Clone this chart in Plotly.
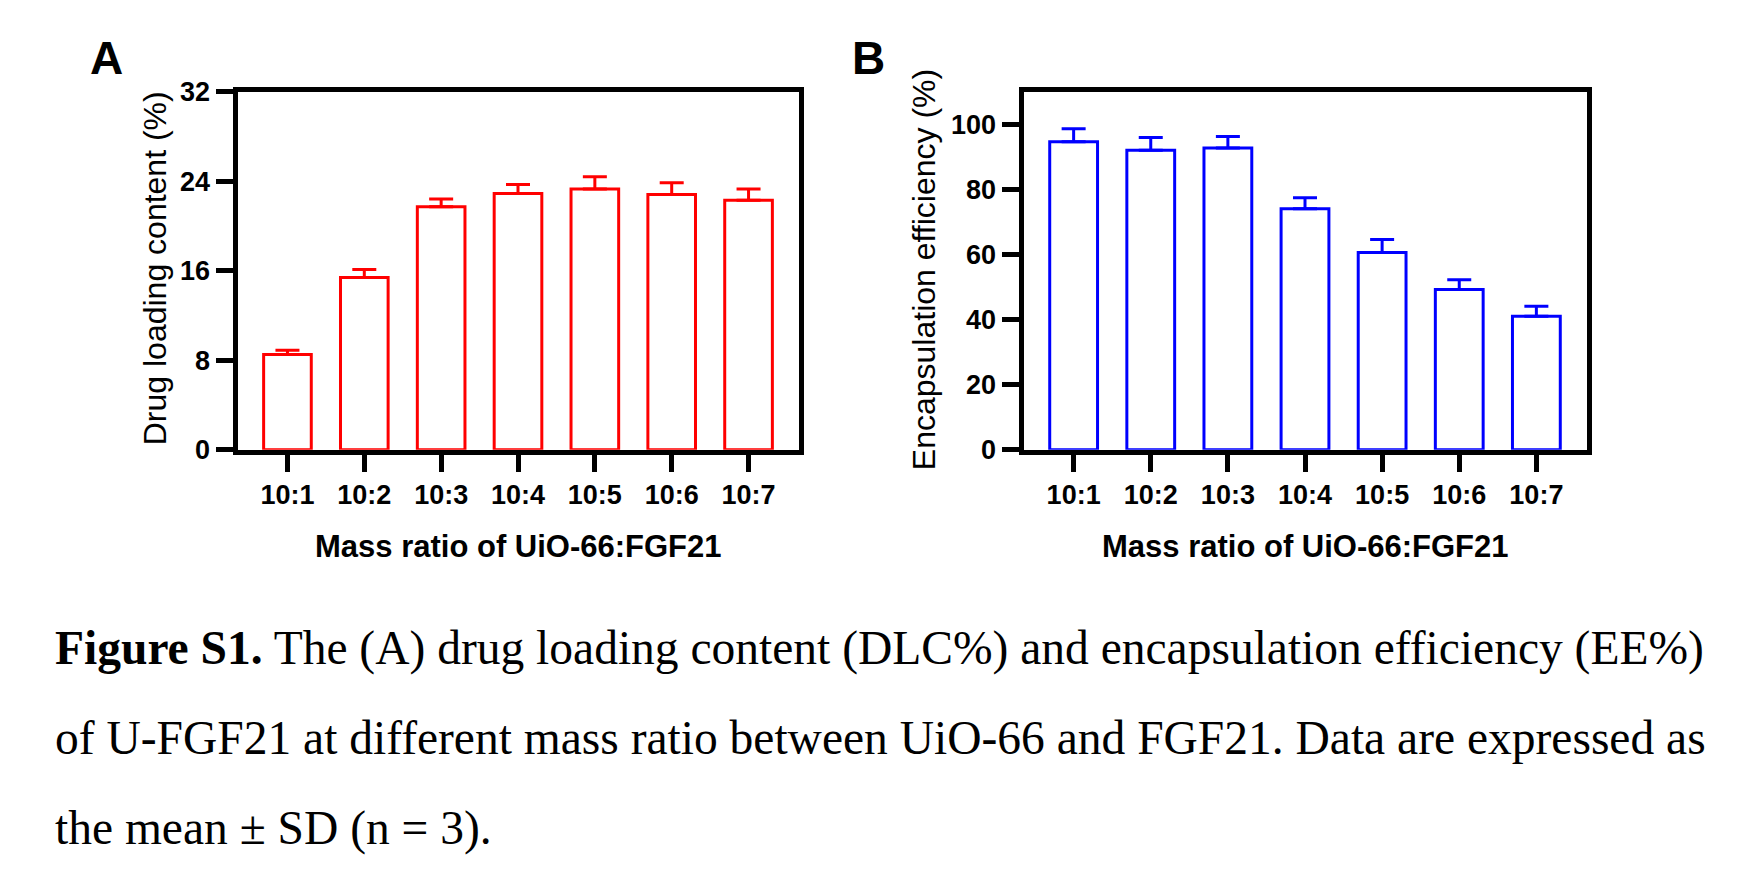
import plotly.graph_objects as go

ratios = ['10:1', '10:2', '10:3', '10:4', '10:5', '10:6', '10:7']

dlc = [8.5, 15.4, 21.7, 22.9, 23.3, 22.8, 22.3]
dlc_sd = [0.4, 0.7, 0.7, 0.8, 1.1, 1.05, 1.0]

ee = [94.6, 92.0, 92.7, 74.0, 60.6, 49.2, 41.0]
ee_sd = [4.0, 3.9, 3.5, 3.4, 4.0, 3.0, 3.1]

dlc_ticks = [0, 8, 16, 24, 32]
ee_ticks = [0, 20, 40, 60, 80, 100]

W, H = 1746, 871
lw = 5  # axis line width, plotly draws it half outside the domain

tick_font = dict(family='Liberation Sans, Arial', size=27, color='black', weight='bold')

fig = go.Figure()

fig.add_trace(go.Bar(x=ratios, y=dlc, width=0.62,
                     marker=dict(color='white', line=dict(color='#ff0000', width=3)),
                     error_y=dict(type='data', array=dlc_sd, arrayminus=[0] * len(dlc_sd),
                                  symmetric=False, color='#ff0000', thickness=3, width=12),
                     xaxis='x', yaxis='y', showlegend=False))

fig.add_trace(go.Bar(x=ratios, y=ee, width=0.62,
                     marker=dict(color='white', line=dict(color='#0000ff', width=3)),
                     error_y=dict(type='data', array=ee_sd, arrayminus=[0] * len(ee_sd),
                                  symmetric=False, color='#0000ff', thickness=3, width=12),
                     xaxis='x2', yaxis='y2', showlegend=False))

xcommon = dict(range=[-0.65, 6.65], showline=True, linewidth=lw, linecolor='black', mirror=True,
               ticks='outside', ticklen=17, tickwidth=5, tickcolor='black',
               showgrid=False, zeroline=False, tickfont=tick_font)
ycommon = dict(showline=True, linewidth=lw, linecolor='black', mirror=True,
               ticks='outside', ticklen=17, tickwidth=5, tickcolor='black',
               showgrid=False, zeroline=False, tickfont=tick_font)

ydom = [(H - 444.5 + lw / 2) / H, (H - 68.5 - lw / 2) / H]

fig.update_layout(
    width=W, height=H,
    margin=dict(l=0, r=0, t=0, b=0),
    paper_bgcolor='white', plot_bgcolor='white',
    xaxis=dict(domain=[(227 + lw / 2) / W, (793 - lw / 2) / W], anchor='y', **xcommon),
    yaxis=dict(domain=ydom, anchor='x', range=[0, 32], tickvals=dlc_ticks, **ycommon),
    xaxis2=dict(domain=[(1013 + lw / 2) / W, (1581 - lw / 2) / W], anchor='y2', **xcommon),
    yaxis2=dict(domain=ydom, anchor='x2', range=[0, 110], tickvals=ee_ticks, **ycommon),
)

label_font = dict(family='Liberation Sans, Arial', size=46, color='black', weight='bold')
ytitle_font = dict(family='Liberation Sans, Arial', size=32, color='black')
xtitle_font = dict(family='Liberation Sans, Arial', size=31, color='black', weight='bold')
cap_font = dict(family='Liberation Serif, Times New Roman', size=47.5, color='black')

notes = [
    dict(text='A', x=98 / W, y=(H - 36) / H, font=label_font),
    dict(text='B', x=860 / W, y=(H - 36) / H, font=label_font),
    dict(text='Drug loading content (%)', x=147 / W, y=(H - 254) / H, textangle=-90, font=ytitle_font),
    dict(text='Encapsulation efficiency (%)', x=916 / W, y=(H - 256) / H, textangle=-90, font=ytitle_font),
    dict(text='Mass ratio of UiO-66:FGF21', x=510 / W, y=(H - 542) / H, font=xtitle_font),
    dict(text='Mass ratio of UiO-66:FGF21', x=1297 / W, y=(H - 542) / H, font=xtitle_font),
]
for n in notes:
    fig.add_annotation(xref='paper', yref='paper', showarrow=False,
                       xanchor='center', yanchor='middle', **n)

caption = [
    '<b>Figure S1.</b> The (A) drug loading content (DLC%) and encapsulation efficiency (EE%)',
    'of U-FGF21 at different mass ratio between UiO-66 and FGF21. Data are expressed as',
    'the mean ± SD (n = 3).',
]
for i, line in enumerate(caption):
    fig.add_annotation(text=line, xref='paper', yref='paper', x=45 / W, y=(H - (648 + 93 * i)) / H,
                       xanchor='left', yanchor='middle', showarrow=False, font=cap_font)

fig.write_html('out.html')
